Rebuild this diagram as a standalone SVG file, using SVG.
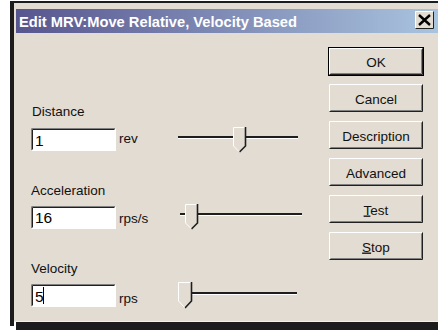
<svg xmlns="http://www.w3.org/2000/svg" width="438" height="330" viewBox="0 0 438 330">
  <defs>
    <linearGradient id="tb" x1="0" y1="0" x2="1" y2="0">
      <stop offset="0" stop-color="#57558e"/>
      <stop offset="1" stop-color="#a9c4df"/>
    </linearGradient>
    <style>
      .lbl{font-family:"Liberation Sans",Arial,sans-serif;font-size:13.5px;fill:#111}
      .btxt{font-family:"Liberation Sans",Arial,sans-serif;font-size:13.5px;fill:#111;text-anchor:middle}
      .etxt{font-family:"Liberation Sans",Arial,sans-serif;font-size:15.5px;fill:#000}
      .face{fill:#e2dcd3}
      .hl{stroke:#ffffff;stroke-width:1;fill:none}
      .sh{stroke:#808080;stroke-width:1;fill:none}
      .dk{stroke:#202020;stroke-width:1;fill:none}
    </style>
  </defs>
  <rect x="0" y="0" width="438" height="330" fill="#ffffff"/>
  <!-- window frame / shadow -->
  <g id="window">
    <rect x="10" y="1" width="428" height="2" fill="#1c1c1c"/>
    <rect x="10" y="1" width="4" height="325" fill="#1c1c1c"/>
    <rect x="14" y="3" width="424" height="319" class="face"/>
    <rect x="16" y="322" width="422" height="8" fill="#1c1c1c"/>
    <line x1="14" y1="321.5" x2="438" y2="321.5" stroke="#f2eee8"/>
  </g>
  <g id="titlebar">
    <rect x="16" y="9" width="422" height="24" fill="url(#tb)"/>
    <text x="19" y="26.5" font-family="'Liberation Sans',Arial,sans-serif" font-size="14.5" font-weight="bold" fill="#ffffff" textLength="278" lengthAdjust="spacingAndGlyphs">Edit MRV:Move Relative, Velocity Based</text>
  </g>
  <g id="close-button">
    <rect x="415" y="11" width="19" height="18" class="face"/>
    <path d="M415.5 28.5V11.5H433.5" class="hl"/>
    <path d="M415.5 28.5H433.5V11.5" class="dk"/>
    <path d="M419 15L430 25M430 15L419 25" stroke="#000" stroke-width="2.4"/>
  </g>

  <!-- Distance -->
  <g id="distance-label"><text x="32" y="116" class="lbl">Distance</text></g>
  <g id="distance-edit">
    <rect x="31" y="128" width="85" height="23" fill="#ffffff"/>
    <path d="M31.5 150.5V128.5H115.5" class="sh"/>
    <path d="M32.5 149.5V129.5H114.5" class="dk"/>
    <path d="M31.5 150.5H115.5V128.5" class="hl"/>
    <text x="35" y="146" class="etxt">1</text>
  </g>
  <g id="distance-unit"><text x="119" y="143" class="lbl">rev</text></g>
  <g id="distance-slider">
    <line x1="178" y1="137" x2="298" y2="137" stroke="#1e1e1e" stroke-width="2"/>
    <line x1="178" y1="138.5" x2="298" y2="138.5" stroke="#ffffff" stroke-width="1"/>
    <path d="M233 127H246V146L239.5 152L233 146Z" class="face"/>
    <path d="M233.5 146V127.5H245" class="hl"/>
    <path d="M245.5 127V146L239.5 152" stroke="#1e1e1e" stroke-width="1.6" fill="none"/>
    <path d="M233.5 146L239 151.5" stroke="#ffffff" stroke-width="1" fill="none"/>
  </g>

  <!-- Acceleration -->
  <g id="acceleration-label"><text x="31" y="195" class="lbl">Acceleration</text></g>
  <g id="acceleration-edit">
    <rect x="31" y="206" width="85" height="23" fill="#ffffff"/>
    <path d="M31.5 228.5V206.5H115.5" class="sh"/>
    <path d="M32.5 227.5V207.5H114.5" class="dk"/>
    <path d="M31.5 228.5H115.5V206.5" class="hl"/>
    <text x="35" y="223" class="etxt">16</text>
  </g>
  <g id="acceleration-unit"><text x="119" y="223" class="lbl">rps/s</text></g>
  <g id="acceleration-slider">
    <line x1="180" y1="214" x2="302" y2="214" stroke="#1e1e1e" stroke-width="2"/>
    <line x1="180" y1="215.5" x2="302" y2="215.5" stroke="#ffffff" stroke-width="1"/>
    <path d="M185 204H198V223L191.5 229L185 223Z" class="face"/>
    <path d="M185.5 223V204.5H197" class="hl"/>
    <path d="M197.5 204V223L191.5 229" stroke="#1e1e1e" stroke-width="1.6" fill="none"/>
    <path d="M185.5 223L191 228.5" stroke="#ffffff" stroke-width="1" fill="none"/>
  </g>

  <!-- Velocity -->
  <g id="velocity-label"><text x="31" y="273" class="lbl">Velocity</text></g>
  <g id="velocity-edit">
    <rect x="31" y="284" width="85" height="23" fill="#ffffff"/>
    <path d="M31.5 306.5V284.5H115.5" class="sh"/>
    <path d="M32.5 305.5V285.5H114.5" class="dk"/>
    <path d="M31.5 306.5H115.5V284.5" class="hl"/>
    <text x="35" y="302" class="etxt">5</text>
    <line x1="43.5" y1="287" x2="43.5" y2="304" stroke="#000" stroke-width="1"/>
  </g>
  <g id="velocity-unit"><text x="119" y="303" class="lbl">rps</text></g>
  <g id="velocity-slider">
    <line x1="180" y1="293" x2="297" y2="293" stroke="#1e1e1e" stroke-width="2"/>
    <line x1="180" y1="294.5" x2="297" y2="294.5" stroke="#ffffff" stroke-width="1"/>
    <path d="M178 282H192V301L185 308L178 301Z" class="face"/>
    <path d="M178.5 301V282.5H191" class="hl"/>
    <path d="M191.5 282V301L185 308" stroke="#1e1e1e" stroke-width="1.6" fill="none"/>
    <path d="M178.5 301L184.5 307.5" stroke="#ffffff" stroke-width="1" fill="none"/>
  </g>

  <!-- Buttons -->
  <g id="btn-ok">
    <rect x="328.5" y="47.5" width="95" height="28" fill="#e2dcd3" stroke="#000" stroke-width="1"/>
    <path d="M329.5 74.5V48.5H422" class="hl"/>
    <path d="M329.5 74.5H422.5V48.5" class="dk"/>
    <path d="M330.5 73.5H421.5V49.5" class="sh"/>
    <text x="376" y="67" class="btxt">OK</text>
  </g>
  <g id="btn-cancel">
    <rect x="329" y="84" width="94" height="28" class="face"/>
    <path d="M329.5 111.5V84.5H422" class="hl"/>
    <path d="M329.5 111.5H422.5V84.5" class="dk"/>
    <path d="M330.5 110.5H421.5V85.5" class="sh"/>
    <text x="376" y="103.5" class="btxt">Cancel</text>
  </g>
  <g id="btn-description">
    <rect x="329" y="121" width="94" height="28" class="face"/>
    <path d="M329.5 148.5V121.5H422" class="hl"/>
    <path d="M329.5 148.5H422.5V121.5" class="dk"/>
    <path d="M330.5 147.5H421.5V122.5" class="sh"/>
    <text x="376" y="140.5" class="btxt">Description</text>
  </g>
  <g id="btn-advanced">
    <rect x="329" y="158" width="94" height="28" class="face"/>
    <path d="M329.5 185.5V158.5H422" class="hl"/>
    <path d="M329.5 185.5H422.5V158.5" class="dk"/>
    <path d="M330.5 184.5H421.5V159.5" class="sh"/>
    <text x="376" y="177.5" class="btxt">Advanced</text>
  </g>
  <g id="btn-test">
    <rect x="329" y="195" width="94" height="28" class="face"/>
    <path d="M329.5 222.5V195.5H422" class="hl"/>
    <path d="M329.5 222.5H422.5V195.5" class="dk"/>
    <path d="M330.5 221.5H421.5V196.5" class="sh"/>
    <text x="376" y="214.5" class="btxt"><tspan text-decoration="underline">T</tspan>est</text>
  </g>
  <g id="btn-stop">
    <rect x="329" y="232" width="94" height="28" class="face"/>
    <path d="M329.5 259.5V232.5H422" class="hl"/>
    <path d="M329.5 259.5H422.5V232.5" class="dk"/>
    <path d="M330.5 258.5H421.5V233.5" class="sh"/>
    <text x="376" y="251.5" class="btxt"><tspan text-decoration="underline">S</tspan>top</text>
  </g>
  <g id="connectors"/>
</svg>
